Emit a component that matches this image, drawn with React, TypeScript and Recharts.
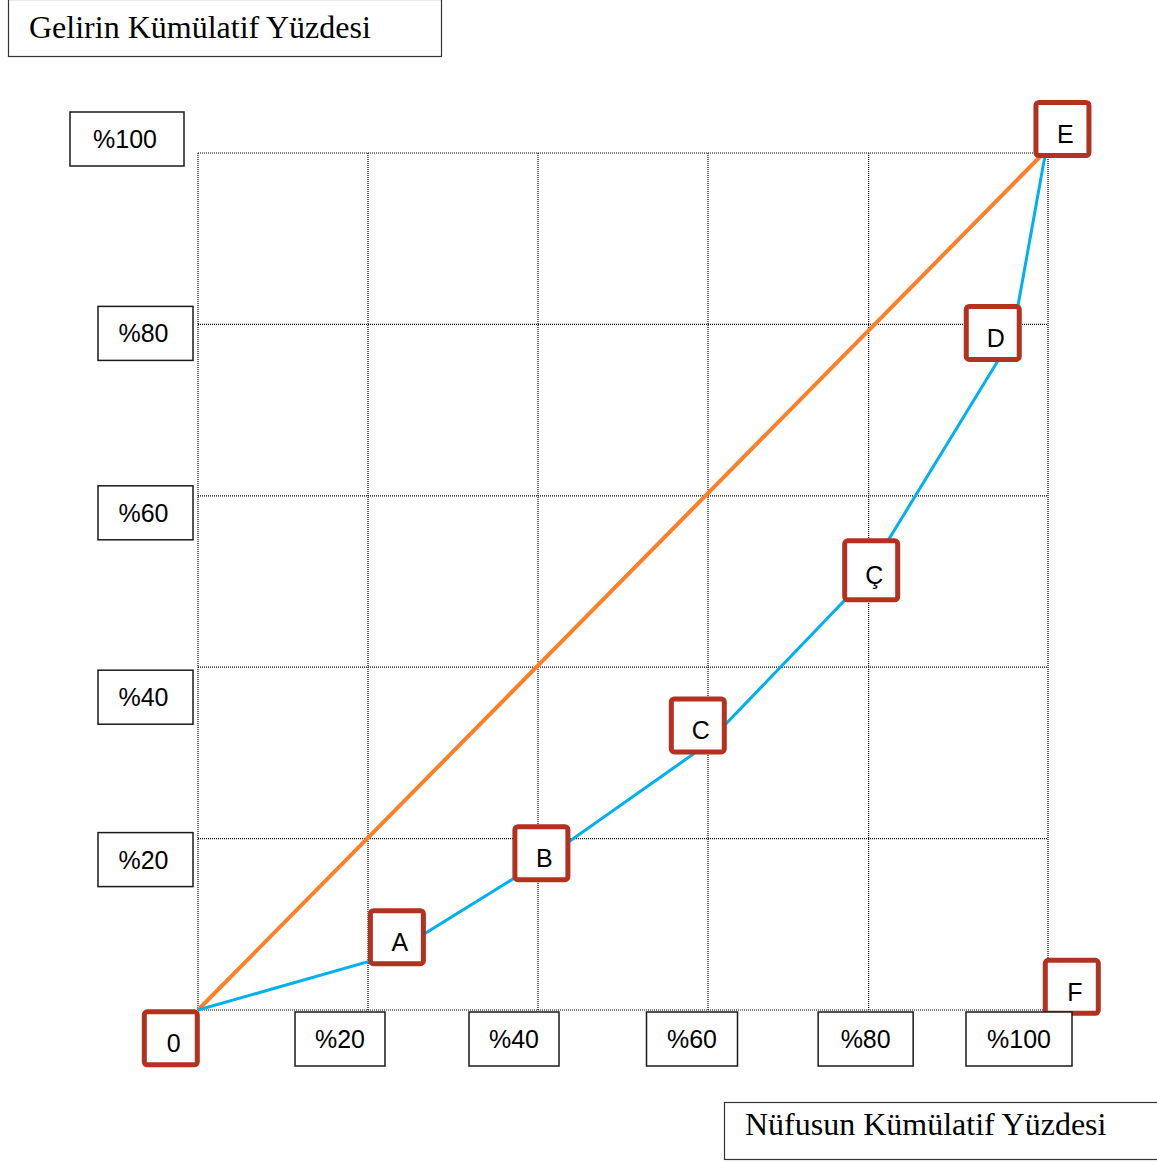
import { CartesianGrid, ComposedChart, Line, ReferenceDot, XAxis, YAxis } from "recharts";

// grid positions as drawn in the source (the 80% vertical sits a bit left)
const gridX = [0, 20, 40, 60, 78.9, 100];
const gridY = [0, 20, 40, 60, 80, 100];
const xTickLabels = ["", "%20", "%40", "%60", "%80", "%100"];
const yTickLabels = ["", "%20", "%40", "%60", "%80", "%100"];

// Lorenz curve (blue) and line of equality (orange)
const lorenzX = [0, 22.5, 40.0, 59.6, 78.3, 95.8, 99.7];
const lorenzY = [0, 6.35, 17.1, 30.8, 50.1, 78.5, 100];
const equalityX = [0, 99.5];
const equalityY = [0, 100];

// lettered boxes, centred at these data coordinates
const pointNames = ["0", "A", "B", "C", "Ç", "D", "E", "F"];
const pointX = [-3.2, 23.4, 40.4, 58.8, 79.2, 93.5, 101.7, 102.8];
const pointY = [-3.3, 8.5, 18.3, 33.2, 51.3, 79.0, 102.8, 2.7];

const lorenz = lorenzX.map((x, i) => ({ x, y: lorenzY[i] }));
const equality = equalityX.map((x, i) => ({ x, y: equalityY[i] }));

const SANS = "'Liberation Sans', Arial, sans-serif";
const SERIF = "'Liberation Serif', 'Times New Roman', serif";
const RED = "#B2311F";

const X_TICK_BOX: Record<string, { dx: number; w: number }> = {
  "%20": { dx: -28, w: 90 },
  "%40": { dx: -24, w: 90 },
  "%60": { dx: -16, w: 91 },
  "%80": { dx: -3, w: 95 },
  "%100": { dx: -29, w: 106 },
};

const Y_TICK_BOX: Record<string, { dy: number; w: number; gap: number }> = {
  "%20": { dy: 21, w: 95, gap: 5 },
  "%40": { dy: 30, w: 95, gap: 5 },
  "%60": { dy: 17, w: 95, gap: 5 },
  "%80": { dy: 9, w: 95, gap: 5 },
  "%100": { dy: -14, w: 114, gap: 14 },
};

function XTick(props: any) {
  const { x, y, payload } = props;
  const label = xTickLabels[gridX.indexOf(payload.value)];
  const s = X_TICK_BOX[label];
  if (!s) return <g />;
  const cx = x + s.dx;
  return (
    <g>
      <rect x={cx - s.w / 2} y={y + 2} width={s.w} height={54} fill="#fff" stroke="#1a1a1a" strokeWidth={1.5} />
      <text x={cx} y={y + 38} textAnchor="middle" fontSize={25} fontFamily={SANS} fill="#000">
        {label}
      </text>
    </g>
  );
}

function YTick(props: any) {
  const { x, y, payload } = props;
  const label = yTickLabels[gridY.indexOf(payload.value)];
  const s = Y_TICK_BOX[label];
  if (!s) return <g />;
  const cy = y + s.dy;
  const cx = x - s.gap - s.w / 2;
  return (
    <g>
      <rect x={cx - s.w / 2} y={cy - 27} width={s.w} height={54} fill="#fff" stroke="#1a1a1a" strokeWidth={1.5} />
      <text x={cx - 2} y={cy + 9} textAnchor="middle" fontSize={25} fontFamily={SANS} fill="#000">
        {label}
      </text>
    </g>
  );
}

function letterBox(name: string) {
  const w = 58;
  const h = name === "Ç" ? 64 : 58;
  return (props: any) => {
    const { cx, cy } = props;
    return (
      <g>
        <rect
          x={cx - w / 2 + 2.5}
          y={cy - h / 2 + 2.5}
          width={w - 5}
          height={h - 5}
          rx={3}
          fill="#fff"
          stroke={RED}
          strokeWidth={5}
        />
        <text x={cx + 3} y={cy + 14} textAnchor="middle" fontSize={25} fontFamily={SANS} fill="#000">
          {name}
        </text>
      </g>
    );
  };
}

export default function App() {
  return (
    <div style={{ position: "absolute", left: 0, top: 0, width: 1157, height: 1162, background: "#fff" }}>
      <svg width={1157} height={1162} style={{ position: "absolute", left: 0, top: 0 }}>
        <rect x={8.5} y={-0.5} width={433} height={57} fill="none" stroke="#333" strokeWidth={1.2} />
        <text x={29} y={38} fontSize={32} fontFamily={SERIF} fill="#000">
          Gelirin Kümülatif Yüzdesi
        </text>
        <rect x={724.5} y={1102.5} width={440} height={57} fill="none" stroke="#333" strokeWidth={1.2} />
        <text x={745} y={1135} fontSize={32} fontFamily={SERIF} fill="#000">
          Nüfusun Kümülatif Yüzdesi
        </text>
      </svg>
      <div style={{ position: "absolute", left: 0, top: 0 }}>
        <ComposedChart width={1157} height={1162} margin={{ top: 153, right: 109, bottom: 92, left: 68 }}>
          <CartesianGrid stroke="#000" strokeWidth={1.2} strokeDasharray="1 1" />
          <XAxis
            type="number"
            dataKey="x"
            domain={[0, 100]}
            ticks={gridX}
            height={60}
            tickSize={0}
            tickMargin={0}
            axisLine={false}
            tickLine={false}
            tick={XTick}
            interval={0}
          />
          <YAxis
            type="number"
            dataKey="y"
            domain={[0, 100]}
            ticks={gridY}
            width={130}
            tickSize={0}
            tickMargin={0}
            axisLine={false}
            tickLine={false}
            tick={YTick}
            interval={0}
          />
          <Line
            data={equality}
            dataKey="y"
            stroke="#FF7F27"
            strokeWidth={4}
            dot={false}
            activeDot={false}
            isAnimationActive={false}
          />
          <Line
            data={lorenz}
            dataKey="y"
            stroke="#00B0F0"
            strokeWidth={3}
            dot={false}
            activeDot={false}
            isAnimationActive={false}
          />
          {pointNames.map((name, i) => (
            <ReferenceDot
              key={name}
              x={pointX[i]}
              y={pointY[i]}
              ifOverflow="visible"
              shape={letterBox(name)}
            />
          ))}
        </ComposedChart>
      </div>
    </div>
  );
}
